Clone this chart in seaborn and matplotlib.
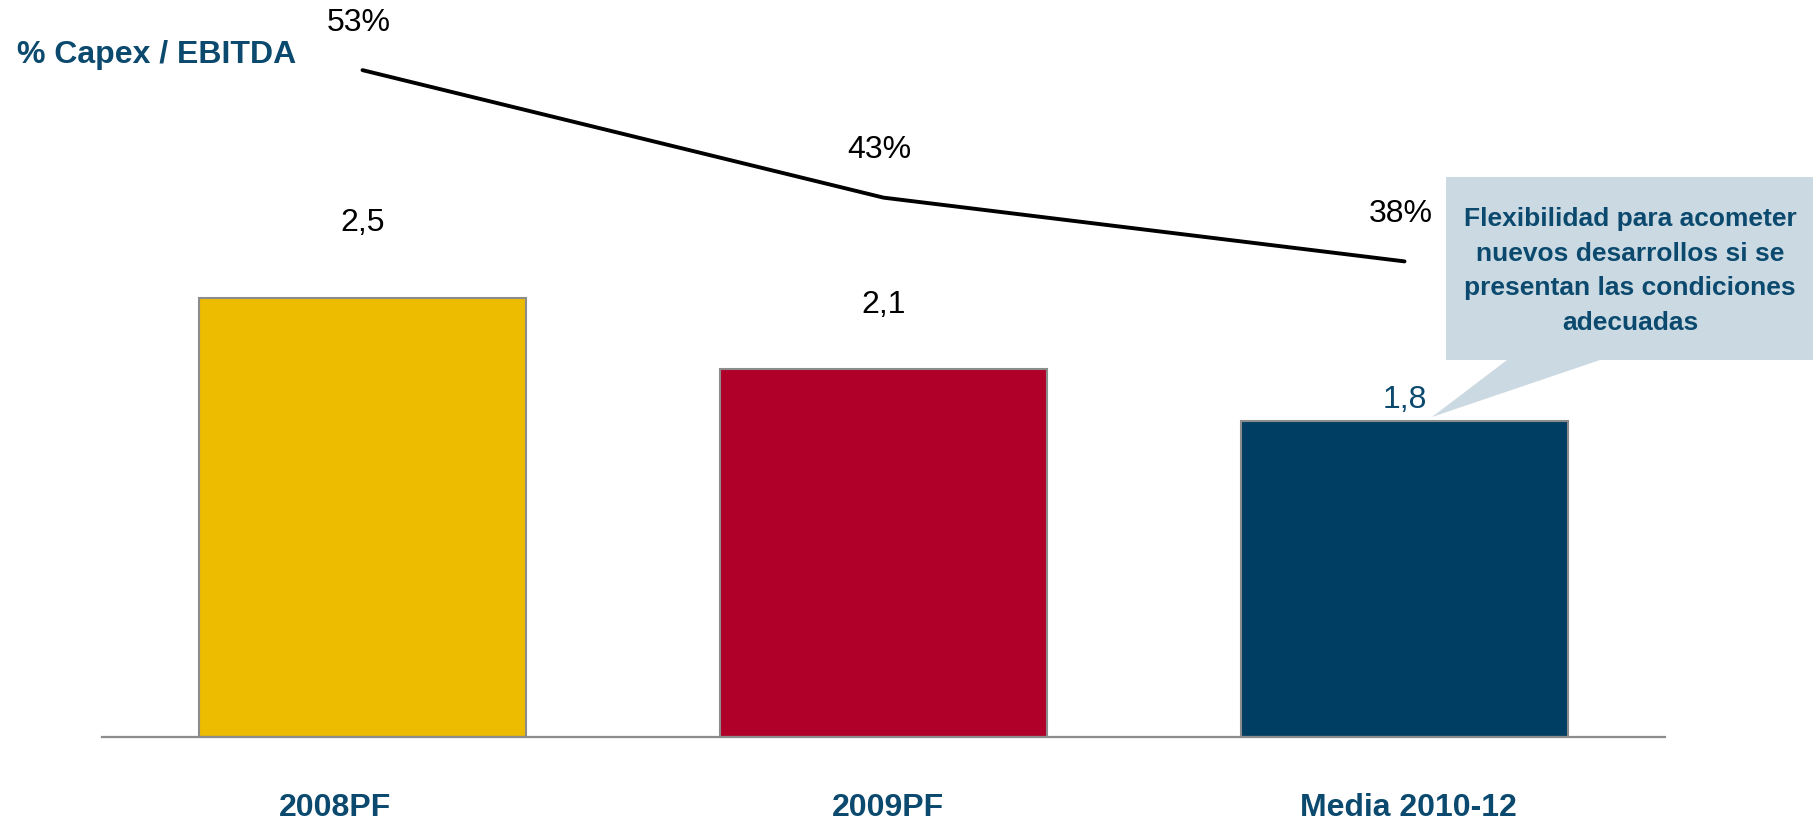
import numpy as np
import pandas as pd
import seaborn as sns
import matplotlib.pyplot as plt
from matplotlib.patches import Polygon
from matplotlib.transforms import ScaledTranslation

# chart data
categories = ['2008PF', '2009PF', 'Media 2010-12']
capex = [2.5, 2.1, 1.8]
capex_labels = ['2,5', '2,1', '1,8']
capex_ebitda = [53, 43, 38]
ratio_labels = ['53%', '43%', '38%']

bar_colors = ['#EDBB00', '#B0002A', '#003F63']
navy = '#0B4A6E'

sns.set_style('white')
plt.rcParams['font.family'] = ['Liberation Sans', 'DejaVu Sans']

fig = plt.figure(figsize=(18.13, 8.21), dpi=100)
ax = fig.add_axes([102 / 1813, 84 / 821, 1563 / 1813, 737 / 821])

df = pd.DataFrame({'cat': categories, 'capex': capex})
sns.barplot(data=df, x='cat', y='capex', hue='cat', palette=bar_colors,
            width=0.628, edgecolor='#8C8C8C', linewidth=1.5, legend=False,
            saturation=1, ax=ax)
ax.set_xlim(-0.5, 2.5)
ax.set_ylim(0, 4.2)

# bar value labels (offsets in points, as laid out in the original)
bar_label_offsets = [54, 46, 15]
bar_label_colors = ['black', 'black', navy]
for i, (v, lab) in enumerate(zip(capex, capex_labels)):
    ax.annotate(lab, (i, v), xytext=(0, bar_label_offsets[i]),
                textcoords='offset points', ha='center', va='center',
                fontsize=23, color=bar_label_colors[i])

# line on secondary axis
ax2 = ax.twinx()
sns.lineplot(x=np.arange(len(categories)), y=capex_ebitda, color='black',
             linewidth=2.8, ax=ax2)
ax2.set_ylim(0.7, 58.5)
for i, (v, lab) in enumerate(zip(capex_ebitda, ratio_labels)):
    ax2.annotate(lab, (i, v), xytext=(-3, 34), textcoords='offset points',
                 ha='center', va='center', fontsize=23, color='black')

for a in (ax, ax2):
    for s in ['top', 'right', 'left']:
        a.spines[s].set_visible(False)
    a.set_yticks([])
    a.set_ylabel('')
ax2.spines['bottom'].set_visible(False)
ax.spines['bottom'].set_color('#8C8C8C')
ax.spines['bottom'].set_linewidth(1.6)
ax.set_xlabel('')
ax.tick_params(axis='x', length=0, pad=40)
label_shift_pt = [-20, 3, 3]
for t, dx in zip(ax.get_xticklabels(), label_shift_pt):
    t.set_fontsize(23)
    t.set_fontweight('bold')
    t.set_color(navy)
    t.set_transform(t.get_transform() + ScaledTranslation(dx / 72, 0, fig.dpi_scale_trans))

fig.text(17 / 1813, 1 - 55 / 821, '% Capex / EBITDA', ha='left', va='center',
         fontsize=23, fontweight='bold', color=navy)

# callout box with pointer
pts = [(1446, 177), (1813, 177), (1813, 360), (1600, 360), (1432, 417),
       (1507, 360), (1446, 360)]
pts = [(x / 1813, 1 - y / 821) for x, y in pts]
fig.patches.append(Polygon(pts, closed=True, transform=fig.transFigure,
                           facecolor='#CBD9E2', edgecolor='none', zorder=0))
fig.text(1630 / 1813, 1 - 271 / 821,
         'Flexibilidad para acometer\nnuevos desarrollos si se\n'
         'presentan las condiciones\nadecuadas',
         ha='center', va='center', fontsize=19, fontweight='bold',
         color=navy, linespacing=1.55)

fig.savefig('out.png', dpi=100)
